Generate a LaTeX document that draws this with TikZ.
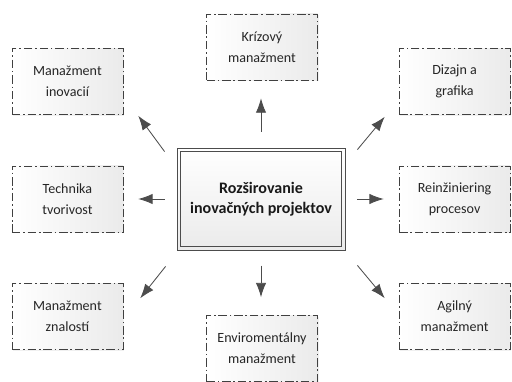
\documentclass[tikz,border=0pt]{standalone}
\usepackage{fontspec}
\setmainfont{Carlito}
\usepackage{tikz}
\usetikzlibrary{positioning, shapes, shadows, arrows.meta}
\tikzstyle{outbox} = [rectangle, minimum width=2.775cm, minimum height=1.65cm, text centered, align=center, draw=black!75, line width=0.5pt, dash pattern=on 6pt off 2pt on 1.2pt off 2pt, left color=white, right color=black!8, text=black!85, font=\fontsize{10}{15}\selectfont, drop shadow={opacity=0.12, shadow xshift=0.8pt, shadow yshift=-0.8pt}]
\tikzstyle{mainbox} = [rectangle, minimum width=4.2cm, minimum height=2.55cm, text centered, align=center, draw=black!70, line width=0.6pt, top color=white, bottom color=black!8, text=black!90, font=\fontsize{11.4}{14.5}\selectfont\bfseries]
\tikzstyle{innerline} = [draw=black!70, line width=0.6pt]
\tikzstyle{arrow} = [draw=black!70, line width=0.6pt, -{Latex[length=3.6mm, width=2.6mm]}]
\def\ddy{1.9}

\begin{document}
\begin{tikzpicture}[node distance=4.84cm]
\useasboundingbox (0,0) rectangle (12.8,9.525);

\node (rozs) [mainbox] at (6.525,4.55) {Rozširovanie\\inovačných projektov};
\draw [innerline] ([xshift=2.6pt, yshift=2.6pt]rozs.south west) rectangle ([xshift=-2.6pt, yshift=-2.6pt]rozs.north east);

\node (tvor) [outbox, left of=rozs] {Technika\\tvorivost};
\node (reinz) [outbox, right of=rozs] {Reinžiniering\\procesov};
\node (inov) [outbox, above of=tvor, yshift=-\ddy cm] {Manažment\\inovacií};
\node (dizajn) [outbox, above of=reinz, yshift=-\ddy cm] {Dizajn a\\grafika};
\node (znal) [outbox, below of=tvor, yshift=\ddy cm] {Manažment\\znalostí};
\node (agil) [outbox, below of=reinz, yshift=\ddy cm] {Agilný\\manažment};
\node (kriz) [outbox, above of=rozs, yshift=-1.04cm, xshift=0.025cm] {Krízový\\manažment};
\node (envi) [outbox, below of=rozs, yshift=1.1cm, xshift=0.025cm] {Enviromentálny\\manažment};

% straight arrows
\draw [arrow, shorten <=0.4cm, shorten >=0.45cm] (rozs.north) -- (rozs.north |- kriz.south);
\draw [arrow, shorten <=0.38cm, shorten >=0.45cm] (rozs.south) -- (rozs.south |- envi.north);
\draw [arrow, shorten <=0.3cm, shorten >=0.375cm] (rozs.west) -- (tvor.east);
\draw [arrow, shorten <=0.3cm, shorten >=0.375cm] (rozs.east) -- (reinz.west);

% diagonal arrows
\draw [arrow] ([xshift=-0.3cm, yshift=-0.1cm]rozs.north west) -- ([xshift=0.375cm, yshift=-0.025cm]inov.south east);
\draw [arrow] ([xshift=0.3cm, yshift=-0.05cm]rozs.north east) -- ([xshift=-0.35cm, yshift=-0.05cm]dizajn.south west);
\draw [arrow] ([xshift=-0.275cm, yshift=-0.4cm]rozs.south west) -- ([xshift=0.425cm, yshift=-0.375cm]znal.north east);
\draw [arrow] ([xshift=0.3cm, yshift=-0.375cm]rozs.south east) -- ([xshift=-0.35cm, yshift=-0.375cm]agil.north west);

\end{tikzpicture}
\end{document}
